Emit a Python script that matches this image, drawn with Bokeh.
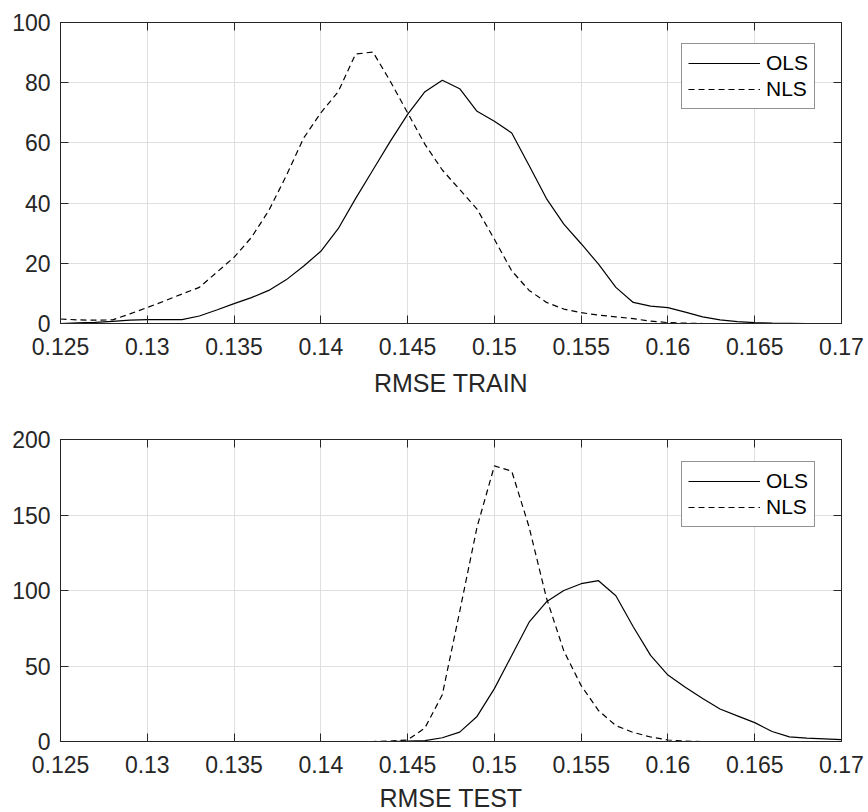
from bokeh.plotting import figure
from bokeh.layouts import column
from bokeh.models import Range1d, FixedTicker, LinearAxis, CustomJSTickFormatter
from bokeh.core.properties import value
from bokeh.embed import file_html
from bokeh.resources import INLINE

# bin centres (RMSE)
rmse = [0.125, 0.126, 0.127, 0.128, 0.129, 0.130, 0.131, 0.132, 0.133, 0.134,
        0.135, 0.136, 0.137, 0.138, 0.139, 0.140, 0.141, 0.142, 0.143, 0.144,
        0.145, 0.146, 0.147, 0.148, 0.149, 0.150, 0.151, 0.152, 0.153, 0.154,
        0.155, 0.156, 0.157, 0.158, 0.159, 0.160, 0.161, 0.162, 0.163, 0.164,
        0.165, 0.166, 0.167, 0.168, 0.169, 0.170]

train_ols = [0.0, 0.2, 0.4, 0.7, 1.1, 1.3, 1.3, 1.3, 2.5, 4.5,
             6.6, 8.6, 11.0, 14.5, 19.0, 24.0, 31.5, 41.5, 51.0, 60.5,
             69.5, 77.0, 80.8, 78.0, 70.5, 67.2, 63.3, 52.5, 41.5, 33.0,
             26.5, 19.7, 12.0, 7.0, 5.8, 5.3, 3.8, 2.2, 1.2, 0.6,
             0.3, 0.1, 0.05, 0.0, 0.0, 0.0]

train_nls = [1.5, 1.2, 1.1, 1.2, 3.2, 5.3, 7.5, 9.8, 12.0, 17.0,
             22.0, 28.6, 37.5, 49.0, 61.5, 70.0, 77.0, 89.5, 90.2, 80.5,
             70.0, 59.5, 51.0, 44.5, 38.0, 28.0, 17.5, 11.0, 7.0, 4.8,
             3.6, 2.8, 2.2, 1.6, 0.8, 0.3, 0.1, 0.0, 0.0, 0.0,
             0.0, 0.0, 0.0, 0.0, 0.0, 0.0]

test_ols = [0.0, 0.0, 0.0, 0.0, 0.0, 0.0, 0.0, 0.0, 0.0, 0.0,
            0.0, 0.0, 0.0, 0.0, 0.0, 0.0, 0.0, 0.0, 0.0, 0.0,
            0.2, 0.6, 2.5, 6.2, 16.6, 35.0, 57.0, 79.0, 92.5, 100.0,
            104.5, 106.5, 96.5, 76.0, 57.0, 44.0, 36.0, 28.5, 21.5, 17.0,
            12.5, 6.6, 3.1, 2.2, 1.8, 1.3]

test_nls = [0.0, 0.0, 0.0, 0.0, 0.0, 0.0, 0.0, 0.0, 0.0, 0.0,
            0.0, 0.0, 0.0, 0.0, 0.0, 0.0, 0.0, 0.0, 0.0, 0.3,
            1.0, 9.0, 31.0, 86.0, 142.0, 182.5, 179.0, 142.0, 95.0, 60.0,
            37.0, 20.5, 10.5, 6.0, 3.0, 1.0, 0.2, 0.0, 0.0, 0.0,
            0.0, 0.0, 0.0, 0.0, 0.0, 0.0]

x_ticks = [0.125, 0.13, 0.135, 0.14, 0.145, 0.15, 0.155, 0.16, 0.165, 0.17]
train_y_ticks = [0, 20, 40, 60, 80, 100]
test_y_ticks = [0, 50, 100, 150, 200]
series_labels = ["OLS", "NLS"]
axis_titles = ["RMSE TRAIN", "RMSE TEST"]

FONT = "Liberation Sans"
TXT = "#262626"
GRID = "#dfdfdf"
X0, X1 = x_ticks[0], x_ticks[-1]


def style_axis(ax, ticks, show_labels, standoff):
    ax.ticker = FixedTicker(ticks=ticks)
    ax.formatter = CustomJSTickFormatter(code="return tick.toString();")
    ax.axis_line_color = TXT
    ax.axis_line_width = 1
    ax.major_tick_line_color = TXT
    ax.major_tick_in = 8
    ax.major_tick_out = 0
    ax.minor_tick_line_color = None
    ax.major_label_text_font = FONT
    ax.major_label_standoff = standoff
    if show_labels:
        ax.major_label_text_font_size = "23px"
        ax.major_label_text_color = TXT
    else:
        ax.major_label_text_font_size = "1px"
        ax.major_label_text_color = None
        ax.major_label_text_alpha = 0


def make(height, top, bottom, ymax, yticks, ols, nls):
    p = figure(width=868, height=height,
               x_range=Range1d(X0, X1), y_range=Range1d(0, ymax),
               output_backend="svg", toolbar_location=None,
               min_border_left=60, min_border_right=27,
               min_border_top=top, min_border_bottom=bottom)
    p.background_fill_color = "white"
    p.border_fill_color = "white"
    p.outline_line_color = TXT
    p.outline_line_width = 1

    style_axis(p.xaxis[0], x_ticks, True, 14)
    style_axis(p.yaxis[0], yticks, True, 10)

    top_ax = LinearAxis()
    style_axis(top_ax, x_ticks, False, 0)
    p.add_layout(top_ax, "above")
    right_ax = LinearAxis()
    style_axis(right_ax, yticks, False, 0)
    p.add_layout(right_ax, "right")

    p.xgrid.ticker = FixedTicker(ticks=x_ticks)
    p.ygrid.ticker = FixedTicker(ticks=yticks)
    p.xgrid.grid_line_color = GRID
    p.ygrid.grid_line_color = GRID
    p.xgrid.grid_line_width = 1
    p.ygrid.grid_line_width = 1

    p.line(rmse, ols, line_color="black", line_width=1.2, legend_label=series_labels[0])
    p.line(rmse, nls, line_color="black", line_width=1.2, line_dash="6 4",
           legend_label=series_labels[1])

    lg = p.legend[0]
    lg.location = (621, 214)
    lg.border_line_color = TXT
    lg.border_line_width = 1
    lg.background_fill_color = "white"
    lg.background_fill_alpha = 1
    lg.label_text_font = FONT
    lg.label_text_font_size = "21px"
    lg.label_text_color = "black"
    lg.glyph_width = 72
    lg.glyph_height = 26
    lg.label_height = 26
    lg.spacing = 0
    lg.padding = 6
    lg.margin = 0
    lg.label_standoff = 6
    return p


def title_strip(height, mid, text):
    s = figure(width=868, height=height,
               x_range=Range1d(X0, X1), y_range=Range1d(0, height),
               output_backend="svg", toolbar_location=None,
               x_axis_type=None, y_axis_type=None,
               min_border_left=60, min_border_right=27,
               min_border_top=0, min_border_bottom=0)
    s.outline_line_color = None
    s.background_fill_color = "white"
    s.border_fill_color = "white"
    s.text(x=[(X0 + X1) / 2], y=[mid], text=[text],
           text_font=value(FONT), text_font_size="25px", text_color=TXT,
           text_align="center", text_baseline="middle")
    return s


p1 = make(364, 22, 41, 100, train_y_ticks, train_ols, train_nls)
s1 = title_strip(36, 18, axis_titles[0])
p2 = make(382, 39, 41, 200, test_y_ticks, test_ols, test_nls)
s2 = title_strip(30, 15, axis_titles[1])

layout = column(p1, s1, p2, s2, spacing=0)
open("out.html", "w").write(file_html(layout, INLINE))
